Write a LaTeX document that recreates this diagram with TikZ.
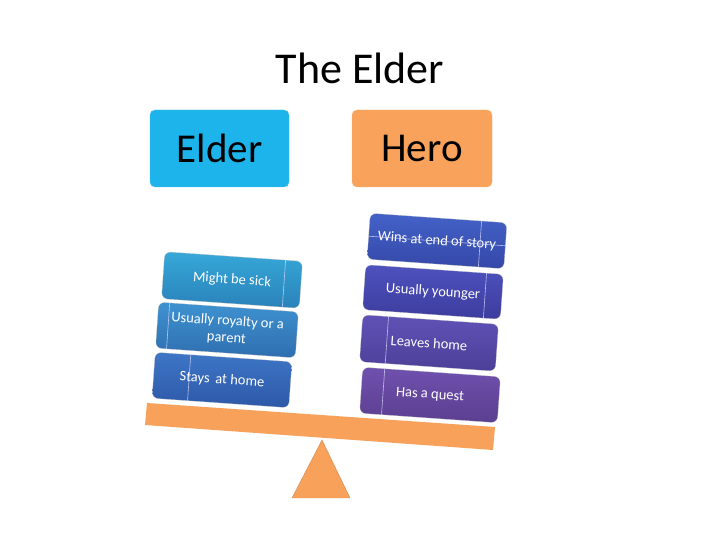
\documentclass[tikz,border=0pt]{standalone}
\usepackage{fontspec}
\setmainfont{Carlito}
\usetikzlibrary{calc}
\definecolor{eldercyan}{HTML}{1DB4EC}
\definecolor{heroorange}{HTML}{F8A25B}
\definecolor{beamorange}{HTML}{F8A15A}
\definecolor{laA}{HTML}{36A8D8}\definecolor{laB}{HTML}{2A82BA}
\definecolor{lbA}{HTML}{3E92D0}\definecolor{lbB}{HTML}{2F6EB0}
\definecolor{lcA}{HTML}{3E76C6}\definecolor{lcB}{HTML}{2E58A8}
\definecolor{raA}{HTML}{4362C8}\definecolor{raB}{HTML}{3548A8}
\definecolor{rbA}{HTML}{4E52BE}\definecolor{rbB}{HTML}{3D3C9E}
\definecolor{rcA}{HTML}{6052B6}\definecolor{rcB}{HTML}{4C3F98}
\definecolor{rdA}{HTML}{7050AE}\definecolor{rdB}{HTML}{5B3F90}
\tikzset{
  headbox/.style={rounded corners=5pt, minimum width=139pt, minimum height=77pt,
    inner sep=0pt, font=\fontsize{41}{46}\selectfont, text=black},
  cardbox/.style={rounded corners=6pt, inner sep=2pt, text=white, rotate=-4,
    font=\fontsize{14.5}{17}\selectfont, align=center, draw=black!25, line width=0.2pt},
  cardline/.style={draw=white!85!blue, line width=0.6pt, opacity=0.8},
}
\begin{document}
\begin{tikzpicture}[x=1pt,y=1pt]
\useasboundingbox (0,0) rectangle (720,540);
\fill[white] (0,0) rectangle (720,540);
% title
\node[font=\fontsize{44}{50}\selectfont] (title) at (360,472) {The Elder};
% headers
\node[headbox, fill=eldercyan, draw=eldercyan!80!white] (elder) at (219.5,391.5) {Elder};
\node[headbox, fill=heroorange, draw=heroorange!80!white, minimum width=140pt] (hero) at (422,391.5) {Hero};
% beam and fulcrum
\fill[beamorange] (147,137) -- (495,113) -- (493,90) -- (145,115) -- cycle;
\path[fill=beamorange, draw=beamorange!85!black, line width=0.4pt] (322,100) coordinate (apex) -- (292,42) coordinate (bl) -- (350,42) coordinate (br) -- cycle;
% left cards
\node[cardbox, top color=laA, bottom color=laB, minimum width=138pt, minimum height=47pt] (l1) at (232,260) {Might be sick};
\draw[cardline] ($(l1.north west)!0.877!(l1.north east)$) -- ($(l1.south west)!0.877!(l1.south east)$);
\node[cardbox, top color=lbA, bottom color=lbB, minimum width=140pt, minimum height=46pt] (l2) at (227,210) {Usually royalty or a\\parent};
\draw[cardline] ($(l2.north west)!0.079!(l2.north east)$) -- ($(l2.south west)!0.079!(l2.south east)$);
\node[cardbox, top color=lcA, bottom color=lcB, minimum width=137pt, minimum height=46pt] (l3) at (222,160) {Stays\, at home};
\draw[cardline] ($(l3.north west)!0.26!(l3.north east)$) -- ($(l3.south west)!0.26!(l3.south east)$);
% right cards
\node[cardbox, top color=raA, bottom color=raB, minimum width=137pt, minimum height=46pt] (r1) at (437,299) {Wins at end of story};
\draw[cardline] ($(r1.north west)!0.814!(r1.north east)$) -- ($(r1.south west)!0.814!(r1.south east)$);
\draw[cardline] ($(r1.north west)!0.5!(r1.south west)$) -- ($(r1.north east)!0.5!(r1.south east)$);
\node[cardbox, top color=rbA, bottom color=rbB, minimum width=138pt, minimum height=45pt] (r2) at (433,248) {Usually younger};
\draw[cardline] ($(r2.north west)!0.877!(r2.north east)$) -- ($(r2.south west)!0.877!(r2.south east)$);
\node[cardbox, top color=rcA, bottom color=rcB, minimum width=136pt, minimum height=47pt] (r3) at (429,197) {Leaves home};
\draw[cardline] ($(r3.north west)!0.19!(r3.north east)$) -- ($(r3.south west)!0.19!(r3.south east)$);
\node[cardbox, top color=rdA, bottom color=rdB, minimum width=138pt, minimum height=46pt] (r4) at (430,145) {Has a quest};
\draw[cardline] ($(r4.north west)!0.16!(r4.north east)$) -- ($(r4.south west)!0.16!(r4.south east)$);
\end{tikzpicture}
\end{document}
